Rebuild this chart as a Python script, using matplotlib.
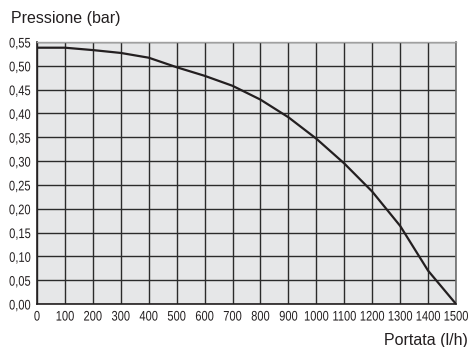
import matplotlib.pyplot as plt
from matplotlib import patheffects
from matplotlib.transforms import Affine2D

# Curva portata / pressione
portata = [0, 100, 200, 300, 400, 500, 600, 700, 800, 900, 1000, 1100, 1200, 1300, 1400, 1500]
pressione = [0.538, 0.538, 0.533, 0.527, 0.517, 0.497, 0.479, 0.458, 0.429, 0.392, 0.347,
             0.295, 0.236, 0.164, 0.070, 0.0]

x_ticks = list(range(0, 1501, 100))
y_ticks = [i * 0.05 for i in range(12)]
y_labels = [f"{v:.2f}".replace(".", ",") for v in y_ticks]

INK = "#231f20"


class Squeeze(patheffects.AbstractPathEffect):
    """Draw text horizontally condensed (the reference uses a narrow font)."""

    def __init__(self, sx=0.8, anchor="center"):
        super().__init__()
        self.sx = sx
        self.anchor = anchor

    def draw_path(self, renderer, gc, tpath, affine, rgbFace=None):
        ext = tpath.get_extents()
        cx = {"left": ext.x0, "center": (ext.x0 + ext.x1) / 2, "right": ext.x1}[self.anchor]
        t = Affine2D().translate(-cx, 0).scale(self.sx, 1).translate(cx, 0) + affine
        renderer.draw_path(gc, tpath, t, rgbFace)


plt.rcParams["font.family"] = ["Liberation Sans", "DejaVu Sans"]

fig = plt.figure(figsize=(4.69, 3.47), dpi=100)
ax = fig.add_axes([0.0789, 0.1239, 0.8934, 0.7551])
ax.set_facecolor("#e6e7e8")

ax.plot(portata, pressione, color=INK, linewidth=1.6, zorder=3)

ax.set_xlim(0, 1500)
ax.set_ylim(0, 0.55)
ax.set_xticks(x_ticks)
ax.set_xticklabels([str(t) for t in x_ticks], fontsize=10, color=INK)
ax.set_yticks(y_ticks)
ax.set_yticklabels(y_labels, fontsize=10, color=INK)
ax.tick_params(axis="x", length=0, pad=4)
ax.tick_params(axis="y", length=0, pad=4.5)
for lbl in ax.get_xticklabels():
    lbl.set_path_effects([Squeeze(0.8, "center")])
for lbl in ax.get_yticklabels():
    lbl.set_path_effects([Squeeze(0.8, "right")])

ax.grid(True, color="#2b2b2b", linewidth=1.0, zorder=1)
ax.set_axisbelow(True)

for side in ["left", "bottom"]:
    ax.spines[side].set_color(INK)
    ax.spines[side].set_linewidth(1.2)
ax.spines["top"].set_color("#a0a0a0")
ax.spines["top"].set_linewidth(1.0)
ax.spines["right"].set_color("#6e6e6e")
ax.spines["right"].set_linewidth(1.2)

fig.text(11 / 469, 1 - 22.7 / 347, "Pressione (bar)", fontsize=11.5, va="baseline",
         ha="left", color=INK)
fig.text(384 / 469, 1 - 345.5 / 347, "Portata (l/h)", fontsize=11.5, va="baseline",
         ha="left", color=INK)

fig.savefig("out.png", dpi=100)
